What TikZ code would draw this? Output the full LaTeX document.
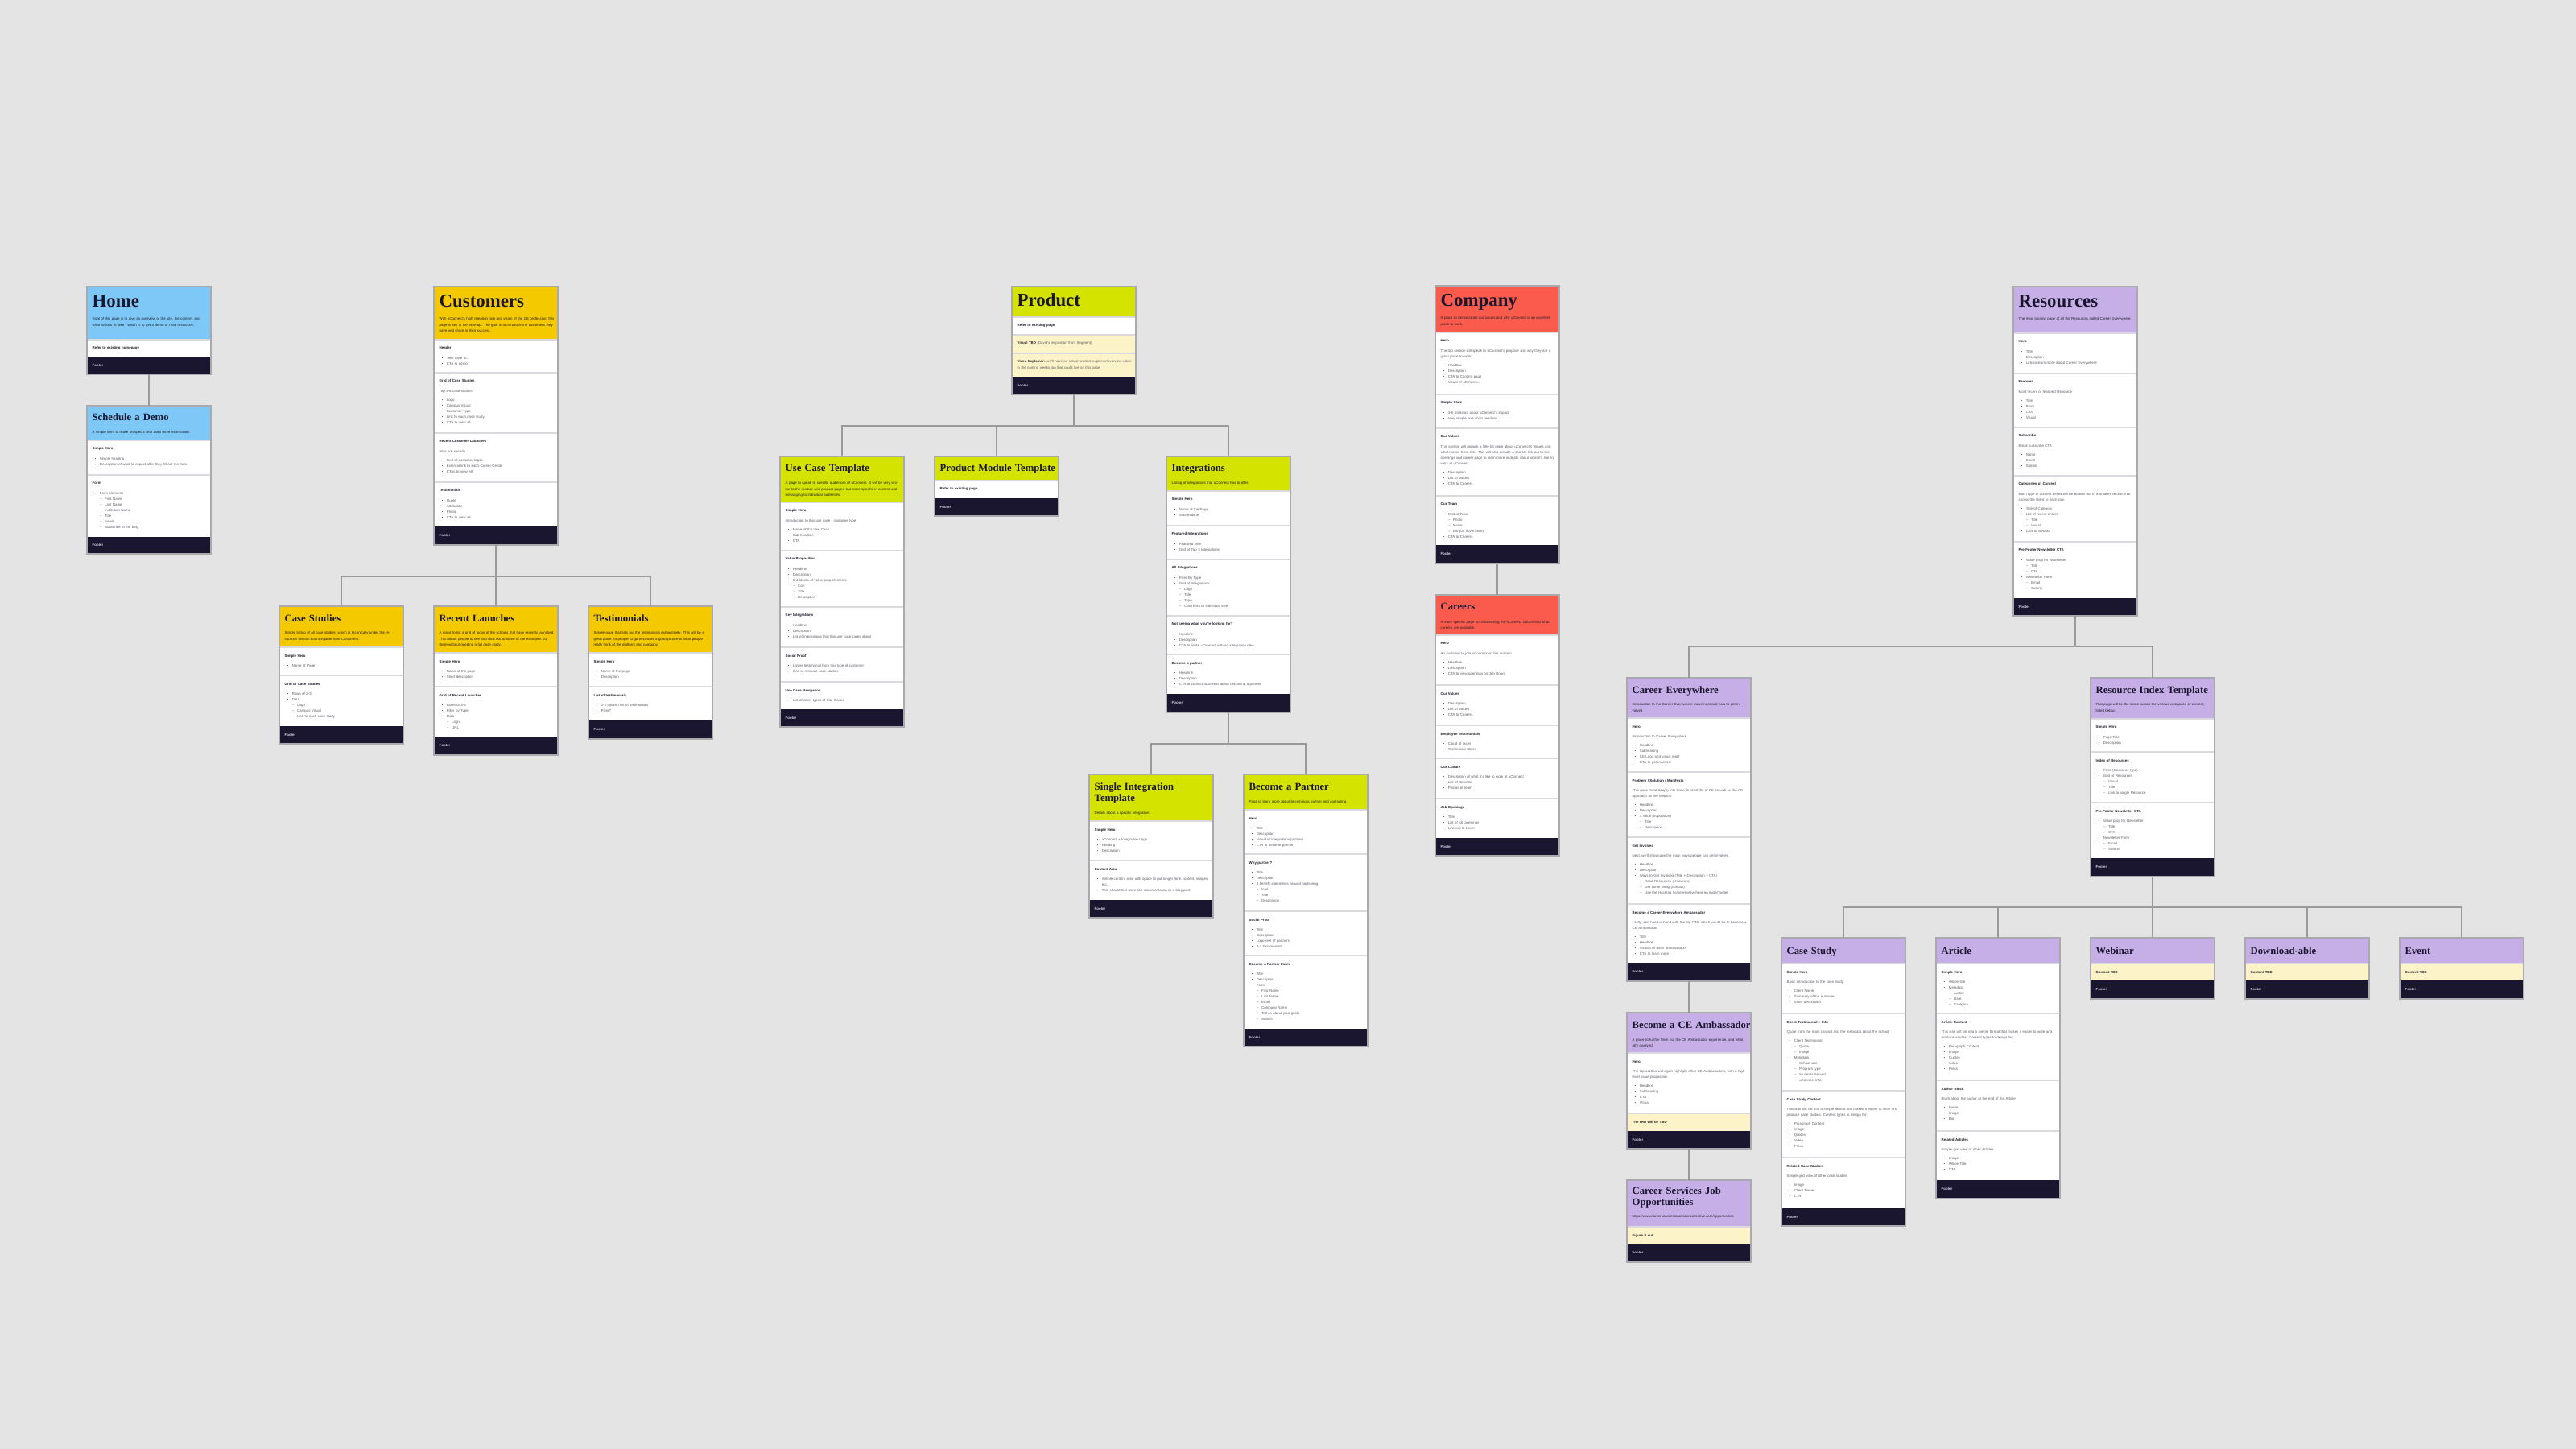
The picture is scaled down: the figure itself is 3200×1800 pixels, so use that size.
\documentclass[tikz,border=0pt]{standalone}
\usepackage{fontspec}
\setmainfont{Liberation Sans}
\newfontfamily\serifT{Liberation Serif}
\usetikzlibrary{fit}

\definecolor{bg}{HTML}{E4E4E4}
\definecolor{conncol}{HTML}{9A9A9A}
\definecolor{cblue}{HTML}{7DC8F7}
\definecolor{cyellow}{HTML}{F5C900}
\definecolor{clime}{HTML}{D5E300}
\definecolor{ccoral}{HTML}{FA5B4C}
\definecolor{clav}{HTML}{C6AFE6}
\definecolor{ccream}{HTML}{FDF3C8}
\definecolor{navy}{HTML}{1B1630}
\definecolor{ink}{HTML}{1E1E28}
\definecolor{gtext}{HTML}{5C5C66}
\definecolor{sepc}{HTML}{D9D9DE}
\definecolor{framec}{HTML}{A9A9AE}
\definecolor{foottext}{HTML}{D4D2DC}

\newcommand\bigt{\serifT\bfseries\fontsize{6.5pt}{7pt}\selectfont}
\newcommand\subt{\serifT\bfseries\fontsize{3.6pt}{4pt}\selectfont}
\newcommand\sh[1]{{\bfseries\color{ink}#1}\par\vspace{1.6pt}}
\newcommand\tx[1]{#1\par\vspace{1pt}}
\newcommand\li[1]{\hangindent=2.6pt\hangafter=1\noindent\hspace*{0.9pt}\makebox[1.7pt][l]{•}#1\par}
\newcommand\lii[1]{\hangindent=4.4pt\hangafter=1\noindent\hspace*{2.7pt}\makebox[1.7pt][l]{–}#1\par}
\newcommand\bk[1]{{\bfseries\color{ink}#1}}

\tikzset{
 hdrtitle/.style={anchor=base west, inner sep=0, text width=14.8mm, align=left, text=navy},
 bigtitle/.style={hdrtitle, font=\bigt, yshift=-2.6mm},
 subtitle/.style={hdrtitle, font=\subt, yshift=-1.9mm},
 hdrdesc/.style={anchor=base west, inner sep=0, text width=14.3mm, align=left, text=ink, font=\fontsize{1.25pt}{2pt}\selectfont},
 body/.style={anchor=base west, inner sep=0, text width=14.3mm, align=left, text=gtext, font=\fontsize{1.25pt}{2pt}\selectfont},
 foot/.style={anchor=west, inner sep=0, text=foottext, font=\bfseries\fontsize{1.25pt}{2pt}\selectfont},
 frame/.style={draw=framec, line width=0.35pt, inner sep=0, outer sep=0},
 conn/.style={draw=conncol, line width=0.6pt},
 sepl/.style={draw=sepc, line width=0.3pt},
}

% header: name, x, y1, y2, color, title options, title, desc baseline offset, desc
\newcommand\hd[9]{%
  \fill[#5] (#2,#3) rectangle (#2+154,#4);
  \node[#6] (#1-t) at (#2+6,#3) {#7};
  \if\relax\detokenize{#9}\relax\else
  \node[hdrdesc] (#1-d) at (#2+6,#3+#8) {#9};
  \fi
}
% section: name, x, y1, y2, fill, content
\newcommand\sect[6]{%
  \fill[#5] (#2,#3) rectangle (#2+154,#4);
  \draw[sepl] (#2,#3) -- (#2+154,#3);
  \node[body] (#1) at (#2+6,#3+12) {#6};
}
% footer: name, x, y1, y2
\newcommand\ftr[4]{%
  \fill[navy] (#2,#3) rectangle (#2+154,#4);
  \node[foot] (#1) at (#2+6,{(#3+#4)/2}) {Footer};
}
% page frame: name, x, y1, y2
\newcommand\pg[4]{\node[frame, fit={(#2,#3)(#2+154,#4)}] (#1) {};}

\begin{document}
\begin{tikzpicture}[x=0.1mm,y=-0.1mm]
\fill[bg] (0,0) rectangle (3200,1800);
\useasboundingbox (0,0) rectangle (3200,1800);

% ---------------- Home
\hd{home}{108}{356}{422}{cblue}{bigtitle}{Home}{42}{Goal of this page is to give an overview of the site, the content, and what actions to take - which is to get a demo or read resources.}
\sect{home-s1}{108}{422}{443}{white}{\bk{Refer to existing homepage}}
\ftr{home-f}{108}{443}{465}
\pg{home}{108}{356}{465}

% ---------------- Schedule a Demo
\hd{demo}{108}{504}{547}{cblue}{subtitle}{Schedule a Demo}{35}{A simple form to make prospects who want more information.}
\sect{demo-s1}{108}{547}{590}{white}{\sh{Simple Hero}\li{Simple heading}\li{Description of what to expect after they fill out the form.}}
\sect{demo-s2}{108}{590}{667}{white}{\sh{Form}\li{Form elements}\lii{First Name}\lii{Last Name}\lii{Institution Name}\lii{Title}\lii{Email}\lii{Subscribe to the blog}}
\ftr{demo-f}{108}{667}{688}
\pg{demo}{108}{504}{688}

% ---------------- Customers
\hd{cust}{539}{356}{422}{cyellow}{bigtitle}{Customers}{42}{With uConnect's high retention rate and vision of the CE profession, this page is key in the sitemap. The goal is to introduce the customers they have and share in their success.}
\sect{cust-s1}{539}{422}{463}{white}{\sh{Header}\li{Tells case to...}\li{CTA to demo}}
\sect{cust-s2}{539}{463}{538}{white}{\sh{Grid of Case Studies}\tx{Top 4-6 case studies}\li{Logo}\li{Campus Visual}\li{Customer Type}\li{Link to each case study}\li{CTA to view all}}
\sect{cust-s3}{539}{538}{599}{white}{\sh{Recent Customer Launches}\tx{Intro pre-speech}\li{Grid of customer logos}\li{External link to each Career Center}\li{CTAs to view all}}
\sect{cust-s4}{539}{599}{654}{white}{\sh{Testimonials}\li{Quote}\li{Attribution}\li{Photo}\li{CTA to view all}}
\ftr{cust-f}{539}{654}{677}
\pg{cust}{539}{356}{677}

% ---------------- Case Studies
\hd{cs}{347}{753}{804}{cyellow}{subtitle}{Case Studies}{35}{Simple listing of all case studies, which is technically under the resources section but navigable from Customers.}
\sect{cs-s1}{347}{804}{839}{white}{\sh{Simple Hero}\li{Name of Page}}
\sect{cs-s2}{347}{839}{902}{white}{\sh{Grid of Case Studies}\li{Rows of 2-3}\li{Data}\lii{Logo}\lii{Campus Visual}\lii{Link to each case study}}
\ftr{cs-f}{347}{902}{924}
\pg{cs}{347}{753}{924}

% ---------------- Recent Launches
\hd{rl}{539}{753}{811}{cyellow}{subtitle}{Recent Launches}{35}{A place to list a grid of logos of the schools that have recently launched. This allows people to see and click out to some of the examples out there without needing a full case study.}
\sect{rl-s1}{539}{811}{853}{white}{\sh{Simple Hero}\li{Name of the page}\li{Short description}}
\sect{rl-s2}{539}{853}{915}{white}{\sh{Grid of Recent Launches}\li{Rows of 3-5}\li{Filter by Type}\li{Data}\lii{Logo}\lii{URL}}
\ftr{rl-f}{539}{915}{938}
\pg{rl}{539}{753}{938}

% ---------------- Testimonials
\hd{test}{731}{753}{811}{cyellow}{subtitle}{Testimonials}{35}{Simple page that lists out the testimonials exhaustively. This will be a great place for people to go who want a good picture of what people really think of the platform and company.}
\sect{test-s1}{731}{811}{853}{white}{\sh{Simple Hero}\li{Name of the page}\li{Description}}
\sect{test-s2}{731}{853}{895}{white}{\sh{List of testimonials}\li{1-2 column list of testimonials}\li{Filter?}}
\ftr{test-f}{731}{895}{918}
\pg{test}{731}{753}{918}

% ---------------- Product
\hd{prod}{1257}{356}{394}{clime}{bigtitle,yshift=0.1mm}{Product}{0}{}
\sect{prod-s1}{1257}{394}{416}{white}{\bk{Refer to existing page}}
\sect{prod-s2}{1257}{416}{439}{ccream}{\bk{Visual TBD} (David's inspiration from Segment)}
\sect{prod-s3}{1257}{439}{468}{ccream}{\bk{Video Explainer:} we'll have an actual product explainer/overview video in the coming weeks too that could live on this page}
\ftr{prod-f}{1257}{468}{490}
\pg{prod}{1257}{356}{490}

% ---------------- Use Case Template
\hd{uc}{969}{567}{624}{clime}{subtitle}{Use Case Template}{35}{A page to speak to specific audiences of uConnect. It will be very similar to the module and product pages, but more specific in content and messaging to individual audiences.}
\sect{uc-s1}{969}{624}{684}{white}{\sh{Simple Hero}\tx{Introduction to this use case / customer type}\li{Name of the Use Case}\li{Sub-headline}\li{CTA}}
\sect{uc-s2}{969}{684}{754}{white}{\sh{Value Proposition}\li{Headline}\li{Description}\li{3-4 blocks of value prop elements}\lii{Icon}\lii{Title}\lii{Description}}
\sect{uc-s3}{969}{754}{804}{white}{\sh{Key Integrations}\li{Headline}\li{Description}\li{List of integrations that this use case cares about}}
\sect{uc-s4}{969}{804}{847}{white}{\sh{Social Proof}\li{Larger testimonial from this type of customer}\li{Grid of relevant case studies}}
\sect{uc-s5}{969}{847}{881}{white}{\sh{Use Case Navigation}\li{List of other types of Use Cases}}
\ftr{uc-f}{969}{881}{903}
\pg{uc}{969}{567}{903}

% ---------------- Product Module Template
\hd{pm}{1161}{567}{597}{clime}{subtitle}{Product Module Template}{0}{}
\sect{pm-s1}{1161}{597}{619}{white}{\bk{Refer to existing page}}
\ftr{pm-f}{1161}{619}{641}
\pg{pm}{1161}{567}{641}

% ---------------- Integrations
\hd{integ}{1449}{567}{610}{clime}{subtitle}{Integrations}{35}{Listing of integrations that uConnect has to offer.}
\sect{integ-s1}{1449}{610}{653}{white}{\sh{Simple Hero}\li{Name of the Page}\li{Subheadline}}
\sect{integ-s2}{1449}{653}{695}{white}{\sh{Featured Integrations}\li{Featured Title}\li{Grid of Top 3 Integrations}}
\sect{integ-s3}{1449}{695}{765}{white}{\sh{All Integrations}\li{Filter By Type}\li{Grid of Integrations}\lii{Logo}\lii{Title}\lii{Type}\lii{Card links to individual view}}
\sect{integ-s4}{1449}{765}{813}{white}{\sh{Not seeing what you're looking for?}\li{Headline}\li{Description}\li{CTA to invite uConnect with an integration idea}}
\sect{integ-s5}{1449}{813}{862}{white}{\sh{Become a partner}\li{Headline}\li{Description}\li{CTA to contact uConnect about becoming a partner}}
\ftr{integ-f}{1449}{862}{885}
\pg{integ}{1449}{567}{885}

% ---------------- Single Integration Template
\hd{si}{1353}{962}{1020}{clime}{subtitle}{Single Integration\\Template}{49}{Details about a specific integration.}
\sect{si-s1}{1353}{1020}{1069}{white}{\sh{Simple Hero}\li{uConnect + Integration Logo}\li{Heading}\li{Description}}
\sect{si-s2}{1353}{1069}{1118}{white}{\sh{Content Area}\li{Simple content area with space to put longer form content, images, etc...}\li{This should feel more like documentation or a blog post}}
\ftr{si-f}{1353}{1118}{1140}
\pg{si}{1353}{962}{1140}

% ---------------- Become a Partner
\hd{bp}{1545}{962}{1006}{clime}{subtitle}{Become a Partner}{35}{Page to learn more about becoming a partner and contacting.}
\sect{bp-s1}{1545}{1006}{1061}{white}{\sh{Hero}\li{Title}\li{Description}\li{Visual of integrations/partners}\li{CTA to become partner}}
\sect{bp-s2}{1545}{1061}{1132}{white}{\sh{Why partner?}\li{Title}\li{Description}\li{3 benefit statements around partnering}\lii{Icon}\lii{Title}\lii{Description}}
\sect{bp-s3}{1545}{1132}{1187}{white}{\sh{Social Proof}\li{Title}\li{Description}\li{Logo reel of partners}\li{2-3 Testimonials}}
\sect{bp-s4}{1545}{1187}{1278}{white}{\sh{Become a Partner Form}\li{Title}\li{Description}\li{Form}\lii{First Name}\lii{Last Name}\lii{Email}\lii{Company Name}\lii{Tell us about your goals}\lii{Submit}}
\ftr{bp-f}{1545}{1278}{1300}
\pg{bp}{1545}{962}{1300}

% ---------------- Company
\hd{comp}{1783}{355}{413}{ccoral}{bigtitle}{Company}{42}{A place to demonstrate our values and why uConnect is an excellent place to work.}
\sect{comp-s1}{1783}{413}{490}{white}{\sh{Hero}\tx{The top section will speak to uConnect's purpose and why they are a great place to work.}\li{Headline}\li{Description}\li{CTA to Content page}\li{Visual of uC faces...}}
\sect{comp-s2}{1783}{490}{532}{white}{\sh{Simple Stats}\li{3-5 Statistics about uConnect's impact}\li{Very simple and short headline}}
\sect{comp-s3}{1783}{532}{616}{white}{\sh{Our Values}\tx{This section will unpack a little bit more about uConnect's Values and what makes them tick. This will also include a sparkle link out to the openings and career page to learn more in depth about what it's like to work at uConnect.}\li{Description}\li{List of Values}\li{CTA to Careers}}
\sect{comp-s4}{1783}{616}{677}{white}{\sh{Our Team}\li{Grid of Team}\lii{Photo}\lii{Name}\lii{Bio (on hover/click)}\li{CTA to Careers}}
\ftr{comp-f}{1783}{677}{700}
\pg{comp}{1783}{355}{700}

% ---------------- Careers
\hd{car}{1783}{739}{789}{ccoral}{subtitle}{Careers}{35}{A more specific page for showcasing the uConnect culture and what careers are available.}
\sect{car-s1}{1783}{789}{851}{white}{\sh{Hero}\tx{An invitation to join uConnect on the mission}\li{Headline}\li{Description}\li{CTA to view openings on Job Board}}
\sect{car-s2}{1783}{851}{901}{white}{\sh{Our Values}\li{Description}\li{List of Values}\li{CTA to Careers}}
\sect{car-s3}{1783}{901}{942}{white}{\sh{Employee Testimonials}\li{Cloud of faces}\li{Testimonial Slider}}
\sect{car-s4}{1783}{942}{992}{white}{\sh{Our Culture}\li{Description of what it's like to work at uConnect}\li{List of Benefits}\li{Photos of team}}
\sect{car-s5}{1783}{992}{1041}{white}{\sh{Job Openings}\li{Title}\li{List of job openings}\li{Link out to Lever}}
\ftr{car-f}{1783}{1041}{1063}
\pg{car}{1783}{739}{1063}

% ---------------- Resources
\hd{res}{2501}{356}{414}{clav}{bigtitle}{Resources}{42}{The main landing page of all the Resources called Career Everywhere.}
\sect{res-s1}{2501}{414}{464}{white}{\sh{Hero}\li{Title}\li{Description}\li{Link to learn more about Career Everywhere}}
\sect{res-s2}{2501}{464}{531}{white}{\sh{Featured}\tx{Most recent or featured Resource}\li{Title}\li{Blurb}\li{CTA}\li{Visual}}
\sect{res-s3}{2501}{531}{591}{white}{\sh{Subscribe}\tx{Email subscribe CTA}\li{Name}\li{Email}\li{Submit}}
\sect{res-s4}{2501}{591}{673}{white}{\sh{Categories of Content}\tx{Each type of content below will be broken out in a smaller section that shows the latest in each row.}\li{Title of Category}\li{List of recent entries}\lii{Title}\lii{Visual}\li{CTA to view all}}
\sect{res-s5}{2501}{673}{743}{white}{\sh{Pre-Footer Newsletter CTA}\li{Value prop for Newsletter}\lii{Title}\lii{CTA}\li{Newsletter Form}\lii{Email}\lii{Submit}}
\ftr{res-f}{2501}{743}{765}
\pg{res}{2501}{356}{765}

% ---------------- Career Everywhere
\hd{ce}{2021}{842}{892}{clav}{subtitle}{Career Everywhere}{35}{Introduction to the Career Everywhere movement and how to get involved.}
\sect{ce-s1}{2021}{892}{959}{white}{\sh{Hero}\tx{Introduction to Career Everywhere}\li{Headline}\li{Subheading}\li{CE Logo and visual motif}\li{CTA to get involved}}
\sect{ce-s2}{2021}{959}{1040}{white}{\sh{Problem / Solution / Manifesto}\tx{This goes more deeply into the cultural shifts of CE as well as the CE approach as the solution}\li{Headline}\li{Description}\li{3 value propositions}\lii{Title}\lii{Description}}
\sect{ce-s3}{2021}{1040}{1123}{white}{\sh{Get Involved}\tx{Next, we'll showcase the main ways people can get involved.}\li{Headline}\li{Description}\li{Ways to Get Involved (Title + Description + CTA)}\lii{Read Resources (resources)}\lii{Get some swag (contact)}\lii{Use the Hashtag \#careereverywhere on Insta/Twitter}}
\sect{ce-s4}{2021}{1123}{1196}{white}{\sh{Become a Career Everywhere Ambassador}\tx{Lastly, end hand-in-hand with the big CTA, which would be to become a CE Ambassador}\li{Title}\li{Headline}\li{Visuals of other ambassadors}\li{CTA to learn more}}
\ftr{ce-f}{2021}{1196}{1219}
\pg{ce}{2021}{842}{1219}

% ---------------- Become a CE Ambassador
\hd{amb}{2021}{1258}{1308}{clav}{subtitle}{Become a CE Ambassador}{35}{A place to further flesh out the CE Ambassador experience, and what all's involved.}
\sect{amb-s1}{2021}{1308}{1383}{white}{\sh{Hero}\tx{The top section will again highlight other CE Ambassadors, with a high level value proposition}\li{Headline}\li{Subheading}\li{CTA}\li{Visual}}
\sect{amb-s2}{2021}{1383}{1405}{ccream}{\bk{The rest will be TBD}}
\ftr{amb-f}{2021}{1405}{1427}
\pg{amb}{2021}{1258}{1427}

% ---------------- Career Services Job Opportunities
\hd{csj}{2021}{1466}{1524}{clav}{subtitle,yshift=0.2mm}{Career Services Job\\Opportunities}{46}{https://www.careerservicesinnovationcollective.com/opportunities}
\sect{csj-s1}{2021}{1524}{1545}{ccream}{\bk{Figure it out}}
\ftr{csj-f}{2021}{1545}{1568}
\pg{csj}{2021}{1466}{1568}

% ---------------- Resource Index Template
\hd{rit}{2597}{842}{893}{clav}{subtitle}{Resource Index Template}{35}{This page will be the same across the various categories of content, listed below.}
\sect{rit-s1}{2597}{893}{934}{white}{\sh{Simple Hero}\li{Page Title}\li{Description}}
\sect{rit-s2}{2597}{934}{997}{white}{\sh{Index of Resources}\li{Filter (Customer type)}\li{Grid of Resources}\lii{Visual}\lii{Title}\lii{Link to single Resource}}
\sect{rit-s3}{2597}{997}{1066}{white}{\sh{Pre-Footer Newsletter CTA}\li{Value prop for Newsletter}\lii{Title}\lii{CTA}\li{Newsletter Form}\lii{Email}\lii{Submit}}
\ftr{rit-f}{2597}{1066}{1089}
\pg{rit}{2597}{842}{1089}

% ---------------- Case Study
\hd{cstudy}{2213}{1165}{1197}{clav}{subtitle,yshift=-0.1mm}{Case Study}{0}{}
\sect{cstudy-s1}{2213}{1197}{1259}{white}{\sh{Simple Hero}\tx{Basic introduction to the case study}\li{Client Name}\li{Summary of the outcome}\li{Short description}}
\sect{cstudy-s2}{2213}{1259}{1355}{white}{\sh{Client Testimonial + Info}\tx{Quote from the main contact and the metadata about the school}\li{Client Testimonial}\lii{Quote}\lii{Image}\li{Metadata}\lii{School size}\lii{Program type}\lii{Students Served}\lii{uConnect info}}
\sect{cstudy-s3}{2213}{1355}{1438}{white}{\sh{Case Study Content}\tx{This wall will fall into a simple format that makes it easier to write and produce case studies. Content types to design for:}\li{Paragraph Content}\li{Image}\li{Quotes}\li{Video}\li{Press}}
\sect{cstudy-s4}{2213}{1438}{1501}{white}{\sh{Related Case Studies}\tx{Simple grid view of other case studies}\li{Image}\li{Client Name}\li{CTA}}
\ftr{cstudy-f}{2213}{1501}{1523}
\pg{cstudy}{2213}{1165}{1523}

% ---------------- Article
\hd{art}{2405}{1165}{1197}{clav}{subtitle,yshift=-0.1mm}{Article}{0}{}
\sect{art-s1}{2405}{1197}{1259}{white}{\sh{Simple Hero}\li{Article title}\li{Metadata}\lii{Author}\lii{Date}\lii{Category}}
\sect{art-s2}{2405}{1259}{1342}{white}{\sh{Article Content}\tx{This wall will fall into a simple format that makes it easier to write and produce articles. Content types to design for:}\li{Paragraph Content}\li{Image}\li{Quotes}\li{Video}\li{Press}}
\sect{art-s3}{2405}{1342}{1405}{white}{\sh{Author Block}\tx{Blurb about the author at the end of the Article}\li{Name}\li{Image}\li{Bio}}
\sect{art-s4}{2405}{1405}{1466}{white}{\sh{Related Articles}\tx{Simple grid view of other Articles}\li{Image}\li{Article Title}\li{CTA}}
\ftr{art-f}{2405}{1466}{1489}
\pg{art}{2405}{1165}{1489}

% ---------------- Webinar / Download-able / Event
\hd{web}{2597}{1165}{1197}{clav}{subtitle,yshift=-0.1mm}{Webinar}{0}{}
\sect{web-s1}{2597}{1197}{1218}{ccream}{\bk{Content TBD}}
\ftr{web-f}{2597}{1218}{1241}
\pg{web}{2597}{1165}{1241}

\hd{dl}{2789}{1165}{1197}{clav}{subtitle,yshift=-0.1mm}{Download-able}{0}{}
\sect{dl-s1}{2789}{1197}{1218}{ccream}{\bk{Content TBD}}
\ftr{dl-f}{2789}{1218}{1241}
\pg{dl}{2789}{1165}{1241}

\hd{ev}{2981}{1165}{1197}{clav}{subtitle,yshift=-0.1mm}{Event}{0}{}
\sect{ev-s1}{2981}{1197}{1218}{ccream}{\bk{Content TBD}}
\ftr{ev-f}{2981}{1218}{1241}
\pg{ev}{2981}{1165}{1241}

% ---------------- Connectors
\coordinate (custbus) at (616,716);
\coordinate (prodbus) at (1334,529);
\coordinate (intbus) at (1526,924);
\coordinate (resbus) at (2578,803);
\coordinate (botbus) at (2674,1127);

\draw[conn] (home.south) -- (demo.north);
\draw[conn] (cust.south) -- (rl.north);
\draw[conn] (cs.north) |- (custbus) -| (test.north);
\draw[conn] (prod.south) -- (prodbus);
\draw[conn] (uc.north) |- (prodbus) -| (integ.north);
\draw[conn] (pm.north) -- (pm.north |- prodbus);
\draw[conn] (integ.south) -- (intbus);
\draw[conn] (si.north) |- (intbus) -| (bp.north);
\draw[conn] (comp.south) -- (car.north);
\draw[conn] (res.south) -- (resbus);
\draw[conn] (ce.north) |- (resbus) -| (rit.north);
\draw[conn] (ce.south) -- (amb.north);
\draw[conn] (amb.south) -- (csj.north);
\draw[conn] (rit.south) -- (web.north);
\draw[conn] (cstudy.north) |- (botbus) -| (ev.north);
\draw[conn] (art.north) -- (art.north |- botbus);
\draw[conn] (dl.north) -- (dl.north |- botbus);
\end{tikzpicture}
\end{document}
